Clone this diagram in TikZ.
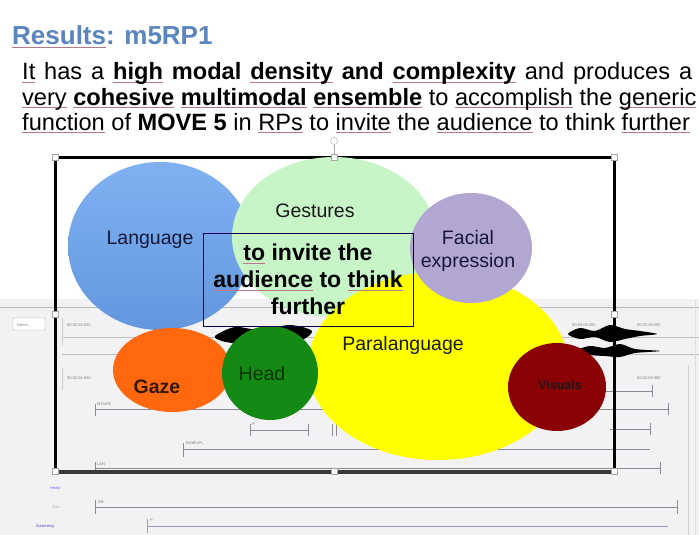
\documentclass[tikz,border=0pt]{standalone}
\usepackage{fontspec}
\setmainfont{Liberation Sans}
\usetikzlibrary{shapes.geometric}
\definecolor{titleblue}{HTML}{5A85BE}
\definecolor{langtop}{HTML}{7FB1F2}
\definecolor{langbot}{HTML}{6496DE}
\definecolor{gestgreen}{HTML}{C8F5C8}
\definecolor{faciallav}{HTML}{B2A6D2}
\definecolor{paryellow}{HTML}{FFFF00}
\definecolor{gazeorange}{HTML}{FF680F}
\definecolor{headgreen}{HTML}{148A14}
\definecolor{darkred}{HTML}{8A0204}
\definecolor{elanbg}{HTML}{F2F2F4}
\definecolor{tierline}{HTML}{8C8C90}
\definecolor{navytext}{HTML}{16183A}
\definecolor{ulcol}{HTML}{B87888}
\newcommand\ulw[1]{\setbox0\hbox{#1}\rlap{\color{ulcol}\rule[-3pt]{\wd0}{0.7pt}}\box0\relax}
\tikzset{
  blob/.style={ellipse, inner sep=0pt, draw=none},
  lbl/.style={font=\fontsize{19.5}{21}\selectfont, text=navytext, inner sep=0pt},
  tiny/.style={font=\fontsize{4}{4}\selectfont, text=gray, inner sep=0pt, anchor=base west},
  tier/.style={draw=tierline, line width=0.8pt},
  handle/.style={draw=gray!70, fill=white, line width=0.6pt, minimum size=6pt, inner sep=0pt},
  bodytxt/.style={font=\fontsize{23.6}{25}\selectfont, anchor=base west, inner sep=0pt}
}
\begin{document}
\begin{tikzpicture}[x=1pt,y=-1pt]
\useasboundingbox (0,0) rectangle (699,535);
\fill[white] (0,0) rectangle (699,535);

% ---------- title and body ----------
\node[anchor=base west, inner sep=0pt, text=titleblue, font=\fontsize{26}{28}\selectfont\bfseries] (title) at (12,45) {\ulw{Results}: m5RP1};
\node[bodytxt] (line1) at (22,80) {\makebox[670pt][s]{\ulw{It} has a \textbf{\ulw{high} modal \ulw{density} and \ulw{complexity}} and produces a}};
\node[bodytxt] (line2) at (22,105) {\ulw{very} \textbf{\ulw{cohesive} \ulw{multimodal} \ulw{ensemble}} to \ulw{accomplish} the \ulw{generic}};
\node[bodytxt] (line3) at (22,130) {\ulw{function} of \textbf{MOVE 5} in \ulw{RPs} to \ulw{invite} the \ulw{audience} to think \ulw{further}};

% ---------- ELAN screenshot background ----------
\fill[elanbg] (0,299) rectangle (699,535);
\draw[gray!55, line width=1pt] (0,307) -- (699,307);
\draw[gray!60, rounded corners=1pt, fill=white] (13,318) rectangle (45,330);
\node[tiny] (demo) at (17,326) {Demo...};
\node[tiny] (ts1) at (67,326) {00:02:56.500};
\node[tiny] (ts2) at (67,379) {00:02:56.600};
\node[tiny] (ts3) at (572,326) {00:03:09.000};
\node[tiny] (ts4) at (637,326) {00:03:09.500};
\node[tiny] (ts5) at (637,379) {00:03:09.900};
\draw[gray!50, line width=0.7pt] (62,337) -- (699,337);
\draw[gray!50, line width=0.7pt] (62,354) -- (699,354);
\draw[gray!40] (62,318) -- (62,345);
\draw[gray!40] (62,368) -- (62,390);
\draw[gray!35, line width=0.8pt] (688,365) -- (688,535);
\draw[gray!25, line width=0.8pt] (695,300) -- (695,535);
% waveform
\fill[black] plot[smooth cycle] coordinates {(568,334) (580,328) (595,331) (610,325) (625,329) (640,331) (657,334) (640,336) (625,339) (610,342) (595,337) (580,339)};
\fill[black] plot[smooth cycle] coordinates {(575,351) (590,346) (605,348) (620,344) (635,349) (660,351) (635,353) (620,357) (605,356) (590,355)};
\fill[black] plot[smooth cycle] coordinates {(215,336) (235,327) (260,330) (290,325) (312,331) (300,341) (270,346) (240,344) (222,341)};
% tiers
\draw[tier] (95,404) -- (95,416) (95,409) -- (668,409) (668,403) -- (668,415);
\node[tiny] (t1) at (97,405) {MOVE5};
\draw[tier] (250,424) -- (250,436) (250,430) -- (308,430) (308,424) -- (308,436);
\node[tiny] (t2) at (252,425) {P};
\draw[tier] (332,424) -- (332,436) (336,424) -- (336,436);
\draw[tier] (610,429) -- (650,429) (650,423) -- (650,435);
\draw[tier] (600,391) -- (652,391) (652,385) -- (652,397);
\draw[tier] (183,443) -- (183,457) (183,449) -- (650,449);
\node[tiny] (t3) at (186,444) {RAdFaPL};
\draw[tier] (95,462) -- (95,474) (95,468) -- (660,468) (660,462) -- (660,474);
\node[tiny] (t4) at (97,465) {LAN};
\draw[tier] (95,500) -- (95,514) (95,507) -- (677,507) (677,500) -- (677,514);
\node[tiny] (t5) at (98,503) {SR};
\draw[tier, draw=tierline!60!blue!60] (147,519) -- (147,533) (147,526) -- (668,526);
\node[tiny] (t6) at (150,521) {P};
\node[tiny, text=blue!60] (l1) at (50,489) {Head};
\node[tiny, text=gray!70] (l2) at (52,508) {Ges};
\node[tiny, text=blue!50!gray] (l3) at (36,527) {Gaze-eng};

% ---------- frame ----------
\fill[white] (55,157) rectangle (614,299);
\draw[line width=3pt, black] (55,157) rectangle (614,471);
\draw[line width=4pt, gray!45!black] (57,472) -- (614,472);

% ---------- modes ----------
\node[blob, top color=langtop, bottom color=langbot, minimum width=184pt, minimum height=168pt] (lang) at (160,246) {};
\node[blob, fill=gestgreen, minimum width=204pt, minimum height=160pt] (gest) at (334,237) {};
\node[blob, fill=paryellow, minimum width=260pt, minimum height=188pt] (para) at (438,366) {};
\node[blob, fill=faciallav, minimum width=122pt, minimum height=110pt] (face) at (471,248) {};
\node[blob, fill=gazeorange, minimum width=118pt, minimum height=84pt] (gaze) at (172,370) {};
\node[blob, fill=headgreen, minimum width=96pt, minimum height=94pt] (head) at (270,373) {};
\node[blob, fill=darkred, minimum width=98pt, minimum height=88pt] (vis) at (557,387) {};

\node[lbl] (langL) at (150,240) {Language};
\node[lbl, text=black!90] (gestL) at (315,211) {Gestures};
\node[lbl, align=center, font=\fontsize{19.5}{23}\selectfont] (faceL) at (468,251) {Facial\\expression};
\node[lbl, text=black!90] (paraL) at (403,345) {Paralanguage};
\node[lbl, text=black!80!orange, font=\fontsize{19.5}{21}\selectfont\bfseries] (gazeL) at (157,387) {Gaze};
\node[lbl, text=black!80!green] (headL) at (262,374) {Head};
\node[lbl, text=black!90, font=\fontsize{12.5}{13}\selectfont\bfseries] (visL) at (560,385) {Visuals};

% ---------- central text box ----------
\node[draw=black!70!blue, line width=0.9pt, minimum width=210pt, minimum height=93pt, inner sep=0pt] (goal) at (308,279.5) {};
\node[align=center, inner sep=0pt, font=\fontsize{23}{27}\selectfont\bfseries, text=black] (goalL) at (308,279) {\ulw{to} invite the\\\ulw{audience} to \ulw{think}\\further};

% ---------- selection handles ----------
\draw[gray!70, line width=0.6pt] (334,145) -- (334,157);
\node[circle, draw=gray!70, fill=white, minimum size=7pt, inner sep=0pt] (rot) at (334,141) {};
\node[handle] (h1) at (55,157) {};
\node[handle] (h2) at (334,157) {};
\node[handle] (h3) at (614,157) {};
\node[handle] (h4) at (55,314) {};
\node[handle] (h5) at (614,314) {};
\node[handle] (h6) at (55,471) {};
\node[handle] (h7) at (334,471) {};
\node[handle] (h8) at (614,471) {};
\end{tikzpicture}
\end{document}
